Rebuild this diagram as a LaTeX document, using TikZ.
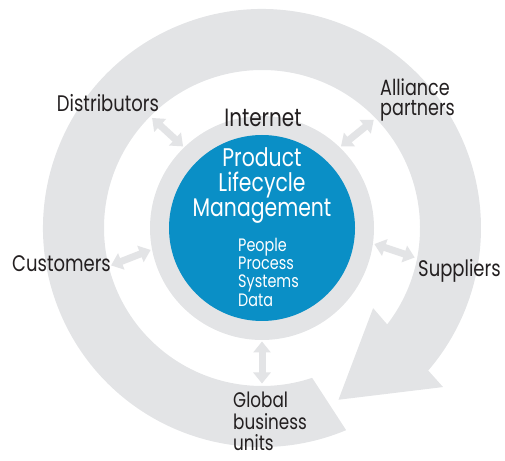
\documentclass[tikz,border=0pt]{standalone}
\usepackage{fontspec}
\setmainfont{Poppins}[FakeStretch=0.8]
\usetikzlibrary{arrows.meta}
\definecolor{ringgray}{HTML}{E3E4E6}
\definecolor{plmblue}{HTML}{0A8FC6}
\definecolor{ink}{HTML}{231F20}
\begin{document}
\begin{tikzpicture}[x=1pt,y=1pt,
  linkbg/.style={line width=10pt, draw=white, {Triangle[width=21pt,length=14pt]}-{Triangle[width=21pt,length=14pt]}},
  linkfg/.style={line width=7pt, draw=ringgray, shorten <=1.5pt, shorten >=1.5pt, {Triangle[width=17pt,length=11pt]}-{Triangle[width=17pt,length=11pt]}},
  disc/.style={circle, inner sep=0pt, outer sep=0pt},
  lbl/.style={text=ink, inner sep=0pt, font=\fontsize{22.5}{24}\selectfont},
  inlbl/.style={text=white, inner sep=0pt},
]
\useasboundingbox (0,0) rectangle (505,460);
\coordinate (c) at (262,232);
% big circular arrow
\fill[ringgray, shift={(c)}] (-71.5:158pt) -- (-67.4:219pt)
  arc[start angle=-67.4, end angle=-400.6, radius=219pt]
  -- (-41.3:241pt) -- (-66:188pt) -- (-35.8:137pt) -- (-37.6:158pt)
  arc[start angle=-397.6, end angle=-71.5, radius=158pt] -- cycle;
\node[disc, fill=ringgray, minimum size=224pt] (ring) at (c) {};
\node[disc, fill=plmblue, minimum size=186pt] (plm) at (c) {};
\node[disc, minimum size=314pt] (orbit) at (c) {};
% connectors
\foreach \a/\b in {134/135.5, 46/44, 352/349, 191/194, 270/270}{
  \draw[linkbg] (ring.\a) -- (orbit.\b);
  \draw[linkfg] (ring.\a) -- (orbit.\b);
}
% texts
\node[inlbl, align=center, font=\fontsize{25.5}{25}\selectfont] (title) at (262,274) {Product\\Lifecycle\\Management};
\node[inlbl, align=left, anchor=west, font=\fontsize{18}{18.3}\selectfont] (pps) at (238,188) {People\\Process\\Systems\\Data};
\node[lbl, font=\fontsize{25}{27}\selectfont, anchor=base] (internet) at (263,333) {Internet};
\node[lbl, anchor=base] (dist) at (108,348) {Distributors};
\node[lbl, anchor=north west, align=left, font=\fontsize{22}{20}\selectfont] (alli) at (380,381) {Alliance\\partners};
\node[lbl, anchor=base west] (cust) at (12,188) {Customers};
\node[lbl, anchor=base west] (supp) at (418,183) {Suppliers};
\node[lbl, anchor=north west, align=left, font=\fontsize{21}{21.5}\selectfont] (glob) at (233,68) {Global\\business\\units};
\end{tikzpicture}
\end{document}
